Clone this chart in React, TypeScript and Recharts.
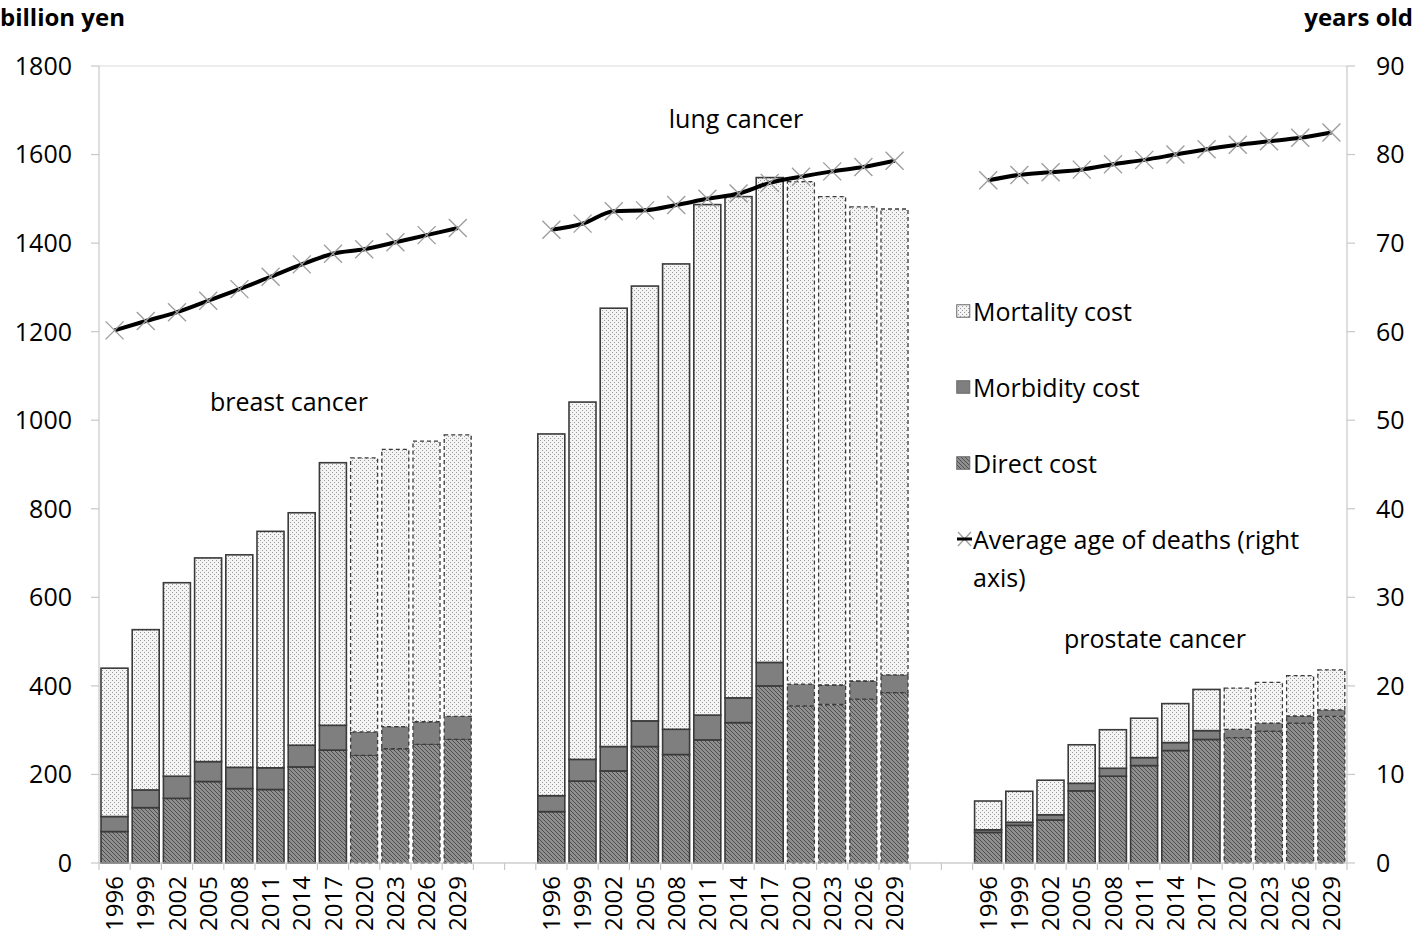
import React from 'react';
import { ComposedChart, Bar, Line, XAxis, YAxis, CartesianGrid, Legend } from 'recharts';

// ---------- data ----------
const YEARS = ['1996', '1999', '2002', '2005', '2008', '2011', '2014', '2017', '2020', '2023', '2026', '2029'];
const FIRST_PROJECTED_YEAR = 2020;
const GROUPS = ['breast cancer', 'lung cancer', 'prostate cancer'];

const BREAST_DIRECT = [71, 125, 146, 184, 168, 166, 217, 255, 243, 258, 268, 279];
const BREAST_MORBIDITY = [34, 40, 50, 45, 48, 49, 49, 56, 53, 50, 51, 52];
const BREAST_MORTALITY = [335, 362, 437, 460, 480, 534, 525, 593, 619, 626, 634, 636];
const BREAST_AGE = [60.15, 61.2, 62.2, 63.5, 64.8, 66.2, 67.6, 68.8, 69.3, 70.1, 70.9, 71.7];

const LUNG_DIRECT = [116, 185, 208, 263, 245, 278, 317, 400, 355, 358, 370, 385];
const LUNG_MORBIDITY = [36, 49, 55, 58, 57, 56, 56, 53, 49, 44, 41, 40];
const LUNG_MORTALITY = [817, 807, 990, 982, 1051, 1153, 1132, 1095, 1135, 1103, 1071, 1052];
const LUNG_AGE = [71.5, 72.2, 73.6, 73.7, 74.3, 75.0, 75.6, 76.8, 77.5, 78.1, 78.6, 79.3];

const PROSTATE_DIRECT = [69, 85, 97, 163, 196, 220, 254, 279, 283, 298, 316, 331];
const PROSTATE_MORBIDITY = [6, 7, 12, 17, 18, 18, 18, 20, 19, 18, 16, 15];
const PROSTATE_MORTALITY = [65, 70, 78, 87, 87, 89, 88, 93, 93, 92, 91, 90];
const PROSTATE_AGE = [77.1, 77.7, 78.0, 78.3, 78.9, 79.4, 80.0, 80.6, 81.1, 81.5, 81.9, 82.5];

const LEFT_TICKS = [0, 200, 400, 600, 800, 1000, 1200, 1400, 1600, 1800];
const RIGHT_TICKS = [0, 10, 20, 30, 40, 50, 60, 70, 80, 90];

const SERIES_NAMES = {
  mortality: 'Mortality cost',
  morbidity: 'Morbidity cost',
  direct: 'Direct cost',
  age: 'Average age of deaths (right axis)',
};

// ---------- table built from arrays ----------
const DIRECT = [BREAST_DIRECT, LUNG_DIRECT, PROSTATE_DIRECT];
const MORBIDITY = [BREAST_MORBIDITY, LUNG_MORBIDITY, PROSTATE_MORBIDITY];
const MORTALITY = [BREAST_MORTALITY, LUNG_MORTALITY, PROSTATE_MORTALITY];
const AGE = [BREAST_AGE, LUNG_AGE, PROSTATE_AGE];

type Row = {
  key: string;
  year: string;
  direct: number | null;
  morbidity: number | null;
  mortality: number | null;
  age: number | null;
  projected: boolean;
};

const ROWS: Row[] = [];
GROUPS.forEach((g, gi) => {
  if (gi > 0) {
    for (let k = 0; k < 2; k++) {
      ROWS.push({ key: `gap-${gi}-${k}`, year: '', direct: null, morbidity: null, mortality: null, age: null, projected: false });
    }
  }
  YEARS.forEach((y, i) => {
    ROWS.push({
      key: `${g}-${y}`,
      year: y,
      direct: DIRECT[gi][i],
      morbidity: MORBIDITY[gi][i],
      mortality: MORTALITY[gi][i],
      age: AGE[gi][i],
      projected: Number(y) >= FIRST_PROJECTED_YEAR,
    });
  });
});

// ---------- styling ----------
const FONT = '"Open Sans", Lato, sans-serif';
const FS = 25;
const AXIS_GREY = '#c8c8c8';

const makeBarShape = (patternId: string) => (props: any) => {
  const { x, y, width, height, payload } = props;
  if (height == null || !(height > 0) || !payload) return <g />;
  const projected = payload.projected;
  return (
    <rect
      x={x}
      y={y}
      width={width}
      height={height}
      fill={`url(#${patternId})`}
      stroke="#3a3a3a"
      strokeWidth={projected ? 1.3 : 1.6}
      strokeDasharray={projected ? '4 3' : undefined}
    />
  );
};

const XMark = (props: any) => {
  const { cx, cy, value } = props;
  if (cx == null || cy == null || value == null) return <g />;
  const s = 9;
  return (
    <g>
      <line x1={cx - s} y1={cy - s} x2={cx + s} y2={cy + s} stroke="#9c9c9c" strokeWidth={1.3} />
      <line x1={cx - s} y1={cy + s} x2={cx + s} y2={cy - s} stroke="#9c9c9c" strokeWidth={1.3} />
    </g>
  );
};

const XTick = (props: any) => {
  const { x, y, payload, width } = props;
  const idx = payload.index;
  const half = payload.offset != null && payload.offset > 0 ? payload.offset : (width || 1248) / ROWS.length / 2;
  const row = ROWS[idx];
  const label = row ? row.year : '';
  const isLast = idx === ROWS.length - 1;
  return (
    <g>
      <line x1={x - half} y1={y} x2={x - half} y2={y + 7} stroke={AXIS_GREY} strokeWidth={1.2} />
      {isLast && <line x1={x + half} y1={y} x2={x + half} y2={y + 7} stroke={AXIS_GREY} strokeWidth={1.2} />}
      {label && (
        <text
          x={x}
          y={y + 13}
          dy="0.36em"
          transform={`rotate(-90, ${x}, ${y + 13})`}
          textAnchor="end"
          fontSize={24}
          fontFamily={FONT}
          fill="#000"
        >
          {label}
        </text>
      )}
    </g>
  );
};

const LegendSwatch = ({ pattern }: { pattern: string }) => (
  <svg width={15} height={14} style={{ display: 'block', marginRight: 2 }}>
    <rect x={0.75} y={0.75} width={13} height={12.5} fill={`url(#${pattern})`} stroke="#6a6a6a" strokeWidth={1} />
  </svg>
);

const LEGEND_ITEMS = [
  { label: SERIES_NAMES.mortality, pattern: 'pMort' },
  { label: SERIES_NAMES.morbidity, pattern: 'pMorb' },
  { label: SERIES_NAMES.direct, pattern: 'pDirect' },
];

const LegendContent = () => (
  <div style={{ position: 'relative', width: 420, height: 320, fontFamily: FONT, fontSize: FS, color: '#000' }}>
    {LEGEND_ITEMS.map((it, i) => (
      <div
        key={it.label}
        style={{ position: 'absolute', left: 0, top: i * 76, height: 38, display: 'flex', alignItems: 'center', whiteSpace: 'nowrap' }}
      >
        <LegendSwatch pattern={it.pattern} />
        <span>{it.label}</span>
      </div>
    ))}
    <div style={{ position: 'absolute', left: 0, top: 228, lineHeight: '38px', width: 390 }}>
      <div style={{ display: 'flex', alignItems: 'center', whiteSpace: 'nowrap', height: 38 }}>
        <svg width={17} height={18} style={{ display: 'block' }}>
          <line x1={2} y1={2} x2={15} y2={16} stroke="#9c9c9c" strokeWidth={1.2} />
          <line x1={2} y1={16} x2={15} y2={2} stroke="#9c9c9c" strokeWidth={1.2} />
          <line x1={1} y1={9} x2={16} y2={9} stroke="#000" strokeWidth={3} />
        </svg>
        <span>Average age of deaths (right</span>
      </div>
      <div style={{ paddingLeft: 17, height: 38 }}>axis)</div>
    </div>
  </div>
);

const PatternDefs = () => (
  <svg width={0} height={0} style={{ position: 'absolute', left: 0, top: 0 }}>
    <defs>
      <pattern id="pMort" width={4} height={4} patternUnits="userSpaceOnUse">
        <rect width={4} height={4} fill="#f4f4f4" />
        <rect x={0} y={0} width={1} height={1} fill="#9a9a9a" />
        <rect x={2} y={2} width={1} height={1} fill="#9a9a9a" />
      </pattern>
      <pattern id="pMorb" width={4} height={4} patternUnits="userSpaceOnUse">
        <rect width={4} height={4} fill="#7f7f7f" />
      </pattern>
      <pattern id="pDirect" width={4} height={4} patternUnits="userSpaceOnUse">
        <rect width={4} height={4} fill="#8f8f8f" />
        <path d="M0,0 L4,4 M-1,3 L1,5 M3,-1 L5,1" stroke="#4e4e4e" strokeWidth={1} />
      </pattern>
    </defs>
  </svg>
);

const groupLabelStyle = (left: number, top: number): React.CSSProperties => ({
  position: 'absolute',
  left,
  top,
  transform: 'translate(-50%, -50%)',
  fontFamily: FONT,
  fontSize: FS,
  color: '#000',
  whiteSpace: 'nowrap',
});

const unitStyle: React.CSSProperties = {
  position: 'absolute',
  top: 0,
  fontFamily: FONT,
  fontSize: 24,
  fontWeight: 700,
  lineHeight: '33px',
  whiteSpace: 'nowrap',
};

export default function App() {
  return (
    <div style={{ position: 'absolute', left: 0, top: 0, width: 1416, height: 935, background: '#fff', fontFamily: FONT }}>
      <PatternDefs />
      <ComposedChart
        width={1416}
        height={935}
        data={ROWS}
        margin={{ top: 66, right: 0, bottom: 0, left: 0 }}
        barSize={27}
      >
        <CartesianGrid vertical={false} stroke="#d9d9d9" strokeWidth={1.2} />
        <XAxis
          dataKey="key"
          xAxisId="x"
          height={72}
          interval={0}
          tickLine={false}
          tickSize={0}
          tickMargin={0}
          axisLine={{ stroke: AXIS_GREY, strokeWidth: 1.2 }}
          tick={<XTick />}
        />
        <YAxis
          yAxisId="left"
          orientation="left"
          width={99}
          domain={[0, 1800]}
          ticks={LEFT_TICKS}
          interval={0}
          tickSize={8}
          tickMargin={19}
          axisLine={{ stroke: AXIS_GREY, strokeWidth: 1.2 }}
          tickLine={{ stroke: AXIS_GREY, strokeWidth: 1.2 }}
          tick={{ fontSize: FS, fill: '#000', fontFamily: FONT }}
        />
        <YAxis
          yAxisId="right"
          orientation="right"
          width={69}
          domain={[0, 90]}
          ticks={RIGHT_TICKS}
          interval={0}
          tickSize={8}
          tickMargin={21}
          axisLine={{ stroke: AXIS_GREY, strokeWidth: 1.2 }}
          tickLine={{ stroke: AXIS_GREY, strokeWidth: 1.2 }}
          tick={{ fontSize: FS, fill: '#000', fontFamily: FONT, textAnchor: 'start' }}
        />
        <Legend
          layout="vertical"
          align="center"
          verticalAlign="middle"
          content={<LegendContent />}
          wrapperStyle={{ left: 956, top: 292, width: 420, height: 320 }}
        />
        <Bar
          xAxisId="x"
          yAxisId="left"
          dataKey="direct"
          name={SERIES_NAMES.direct}
          stackId="cost"
          fill="#8f8f8f"
          shape={makeBarShape('pDirect')}
          isAnimationActive={false}
        />
        <Bar
          xAxisId="x"
          yAxisId="left"
          dataKey="morbidity"
          name={SERIES_NAMES.morbidity}
          stackId="cost"
          fill="#7f7f7f"
          shape={makeBarShape('pMorb')}
          isAnimationActive={false}
        />
        <Bar
          xAxisId="x"
          yAxisId="left"
          dataKey="mortality"
          name={SERIES_NAMES.mortality}
          stackId="cost"
          fill="#f0f0f0"
          shape={makeBarShape('pMort')}
          isAnimationActive={false}
        />
        <Line
          xAxisId="x"
          yAxisId="right"
          dataKey="age"
          name="age-markers"
          stroke="none"
          dot={<XMark />}
          activeDot={false}
          legendType="none"
          isAnimationActive={false}
        />
        <Line
          xAxisId="x"
          yAxisId="right"
          dataKey="age"
          name={SERIES_NAMES.age}
          type="monotone"
          stroke="#000"
          strokeWidth={4}
          dot={false}
          activeDot={false}
          isAnimationActive={false}
        />
      </ComposedChart>
      <div style={{ ...unitStyle, left: 0 }}>billion yen</div>
      <div style={{ ...unitStyle, right: 3 }}>years old</div>
      <div style={groupLabelStyle(289, 401)}>{GROUPS[0]}</div>
      <div style={groupLabelStyle(736, 118)}>{GROUPS[1]}</div>
      <div style={groupLabelStyle(1155, 638)}>{GROUPS[2]}</div>
    </div>
  );
}
